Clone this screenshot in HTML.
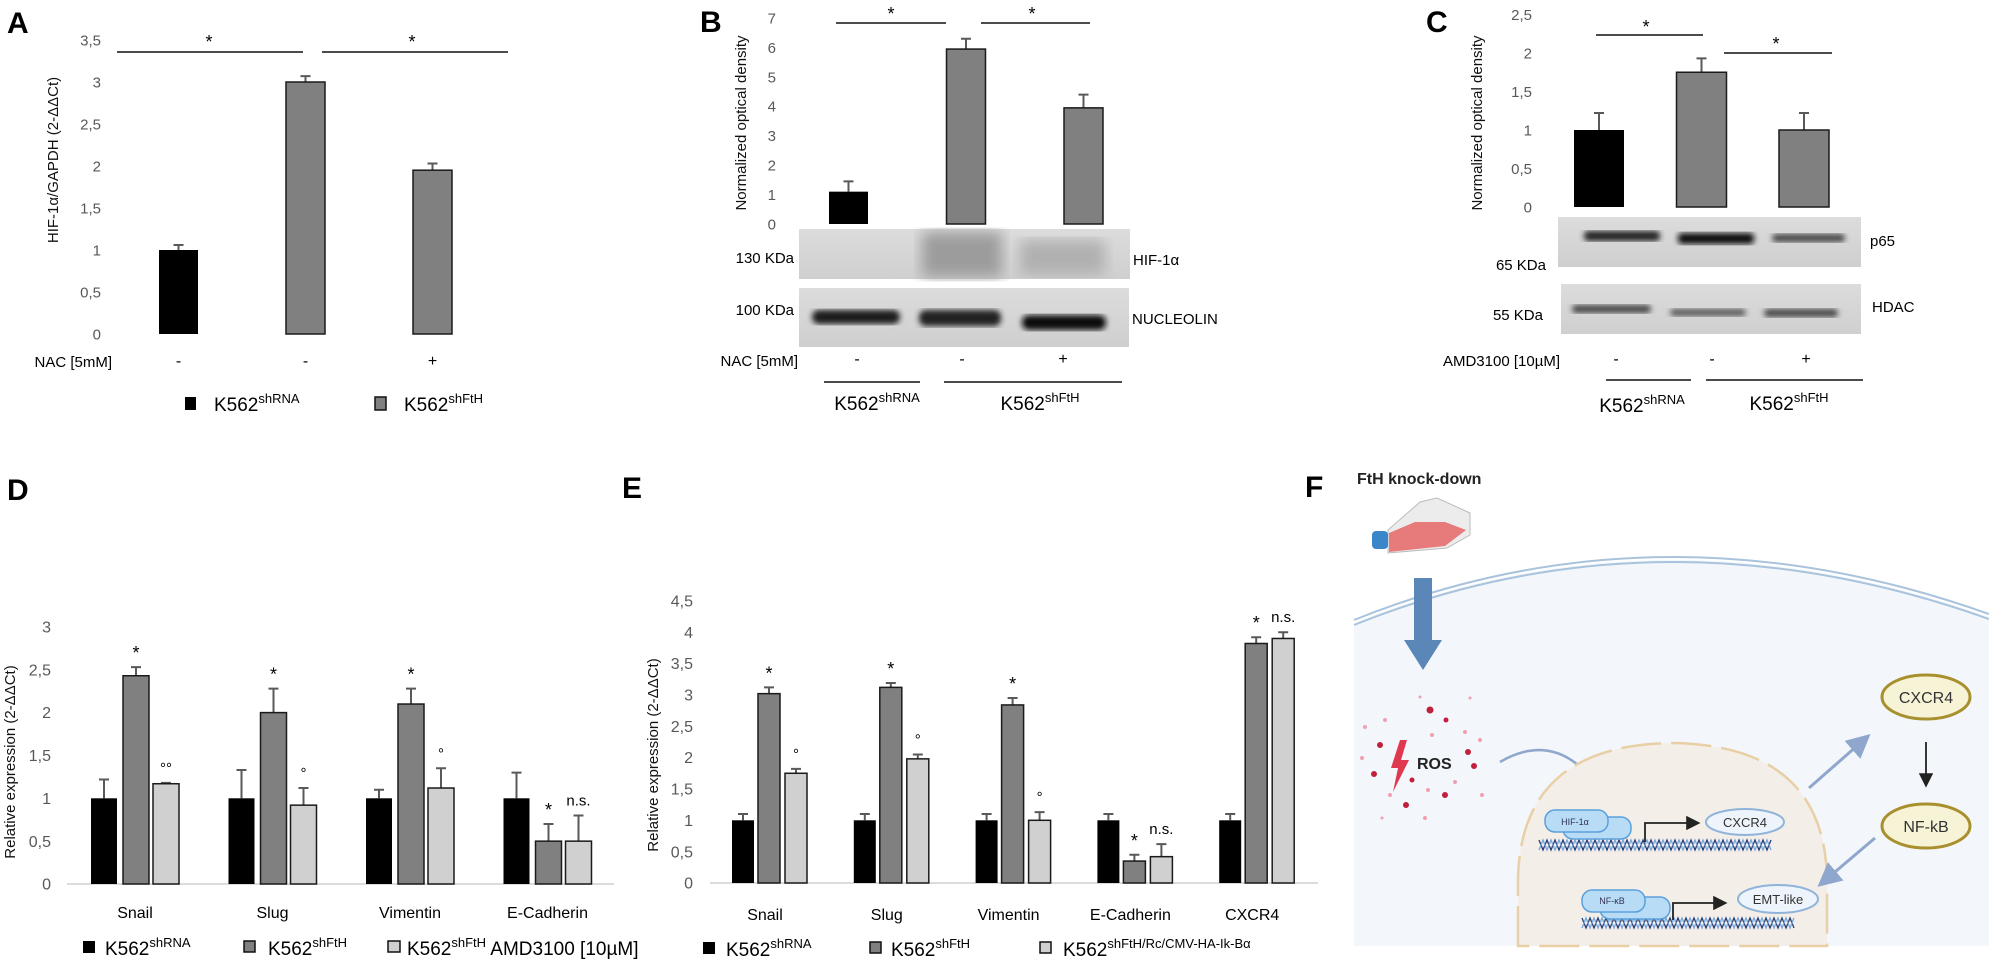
<!DOCTYPE html>
<html><head><meta charset="utf-8">
<style>
html,body{margin:0;padding:0;background:#fff;}
svg{display:block;}
.tk{font-family:"Liberation Sans Narrow","Liberation Sans",sans-serif;fill:#595959;}
.tx{font-family:"Liberation Sans",sans-serif;}
.nr{font-family:"Liberation Sans Narrow","Liberation Sans",sans-serif;}
.pl{font-family:"Liberation Sans",sans-serif;font-weight:bold;font-size:30px;}
</style></head>
<body>
<svg id="fig" width="1989" height="964" viewBox="0 0 1989 964" xmlns="http://www.w3.org/2000/svg">
<defs>
  <filter id="blur3"><feGaussianBlur stdDeviation="3"/></filter>
  <filter id="blur6"><feGaussianBlur stdDeviation="7"/></filter>
  <linearGradient id="blotg" x1="0" y1="0" x2="0" y2="1"><stop offset="0" stop-color="#dcdcdc"/><stop offset="1" stop-color="#cfcfcf"/></linearGradient>
  <marker id="ahb" markerWidth="8" markerHeight="8" refX="6" refY="4" orient="auto"><path d="M0,0 L8,4 L0,8 z" fill="#8fa7cc"/></marker>
  <marker id="ahk" markerWidth="8" markerHeight="8" refX="6" refY="4" orient="auto"><path d="M0,0 L8,4 L0,8 z" fill="#222"/></marker>
</defs>

<!-- panel letters -->
<text class="pl" x="7" y="33">A</text>
<text class="pl" x="700" y="32">B</text>
<text class="pl" x="1426" y="32">C</text>
<text class="pl" x="7" y="500">D</text>
<text class="pl" x="622" y="498">E</text>
<text class="pl" x="1305" y="497">F</text>

<!-- Panel A static -->
<g>
  <text class="tx" transform="translate(58,160) rotate(-90)" text-anchor="middle" font-size="15" fill="#111">HIF-1α/GAPDH  (2-ΔΔCt)</text>
  <line x1="117" y1="52" x2="303" y2="52" stroke="#111" stroke-width="1.5"/>
  <line x1="322" y1="52" x2="508" y2="52" stroke="#111" stroke-width="1.5"/>
  <text class="tx" x="209" y="48" text-anchor="middle" font-size="18">*</text>
  <text class="tx" x="412" y="48" text-anchor="middle" font-size="18">*</text>
  <text class="nr" x="112" y="367" text-anchor="end" font-size="15">NAC [5mM]</text>
  <rect x="185" y="397" width="11" height="13" fill="#000"/>
  <text class="tx" x="214" y="411" font-size="19">K562<tspan font-size="13" dy="-8">shRNA</tspan></text>
  <rect x="375" y="397" width="11" height="13" fill="#808080" stroke="#111" stroke-width="1.5"/>
  <text class="tx" x="404" y="411" font-size="19">K562<tspan font-size="13" dy="-8">shFtH</tspan></text>
</g>
<g id="gA"></g>

<!-- Panel B static -->
<g>
  <text class="tx" transform="translate(746,123) rotate(-90)" text-anchor="middle" font-size="15" fill="#111">Normalized optical density</text>
  <line x1="836" y1="23" x2="946" y2="23" stroke="#111" stroke-width="1.5"/>
  <line x1="981" y1="23" x2="1090" y2="23" stroke="#111" stroke-width="1.5"/>
  <text class="tx" x="891" y="20" text-anchor="middle" font-size="18">*</text>
  <text class="tx" x="1032" y="20" text-anchor="middle" font-size="18">*</text>
  <g>
    <rect x="799" y="229" width="331" height="50" fill="url(#blotg)"/>
    <rect x="922" y="232" width="80" height="45" fill="#9c9c9c" filter="url(#blur6)"/>
    <rect x="1020" y="240" width="85" height="35" fill="#b0b0b0" filter="url(#blur6)"/>
  </g>
  <g>
    <rect x="799" y="288" width="330" height="59" fill="url(#blotg)"/>
    <rect x="812" y="310" width="88" height="14" rx="7" fill="#1a1a1a" filter="url(#blur3)"/>
    <rect x="919" y="310" width="82" height="16" rx="7" fill="#222" filter="url(#blur3)"/>
    <rect x="1022" y="315" width="84" height="15" rx="7" fill="#111" filter="url(#blur3)"/>
  </g>
  <text class="nr" x="794" y="263" text-anchor="end" font-size="15">130 KDa</text>
  <text class="nr" x="794" y="315" text-anchor="end" font-size="15">100 KDa</text>
  <text class="nr" x="1133" y="265" font-size="15">HIF-1α</text>
  <text class="nr" x="1132" y="324" font-size="15">NUCLEOLIN</text>
  <text class="nr" x="798" y="366" text-anchor="end" font-size="15">NAC [5mM]</text>
  <text class="tx" x="857" y="364" text-anchor="middle" font-size="16">-</text>
  <text class="tx" x="962" y="364" text-anchor="middle" font-size="16">-</text>
  <text class="tx" x="1063" y="364" text-anchor="middle" font-size="16">+</text>
  <line x1="824" y1="382" x2="920" y2="382" stroke="#111" stroke-width="1.5"/>
  <line x1="944" y1="382" x2="1122" y2="382" stroke="#111" stroke-width="1.5"/>
  <text class="tx" x="877" y="410" text-anchor="middle" font-size="19">K562<tspan font-size="13" dy="-8">shRNA</tspan></text>
  <text class="tx" x="1040" y="410" text-anchor="middle" font-size="19">K562<tspan font-size="13" dy="-8">shFtH</tspan></text>
</g>
<g id="gB"></g>

<!-- Panel C static -->
<g>
  <text class="tx" transform="translate(1482,123) rotate(-90)" text-anchor="middle" font-size="15" fill="#111">Normalized optical density</text>
  <line x1="1596" y1="35" x2="1703" y2="35" stroke="#111" stroke-width="1.5"/>
  <line x1="1724" y1="53" x2="1832" y2="53" stroke="#111" stroke-width="1.5"/>
  <text class="tx" x="1646" y="33" text-anchor="middle" font-size="18">*</text>
  <text class="tx" x="1776" y="50" text-anchor="middle" font-size="18">*</text>
  <g>
    <rect x="1558" y="217" width="303" height="50" fill="url(#blotg)"/>
    <rect x="1584" y="231" width="76" height="10" rx="4" fill="#222" filter="url(#blur3)"/>
    <rect x="1678" y="233" width="76" height="11" rx="4" fill="#0d0d0d" filter="url(#blur3)"/>
    <rect x="1772" y="234" width="73" height="8" rx="4" fill="#444" filter="url(#blur3)"/>
  </g>
  <g>
    <rect x="1561" y="284" width="300" height="50" fill="url(#blotg)"/>
    <rect x="1572" y="305" width="79" height="8" rx="4" fill="#444" filter="url(#blur3)"/>
    <rect x="1670" y="309" width="76" height="7" rx="4" fill="#555" filter="url(#blur3)"/>
    <rect x="1764" y="309" width="74" height="8" rx="4" fill="#444" filter="url(#blur3)"/>
  </g>
  <text class="nr" x="1870" y="246" font-size="15">p65</text>
  <text class="nr" x="1546" y="270" text-anchor="end" font-size="15">65 KDa</text>
  <text class="nr" x="1872" y="312" font-size="15">HDAC</text>
  <text class="nr" x="1543" y="320" text-anchor="end" font-size="15">55 KDa</text>
  <text class="nr" x="1560" y="366" text-anchor="end" font-size="15">AMD3100  [10µM]</text>
  <text class="tx" x="1616" y="364" text-anchor="middle" font-size="16">-</text>
  <text class="tx" x="1712" y="364" text-anchor="middle" font-size="16">-</text>
  <text class="tx" x="1806" y="364" text-anchor="middle" font-size="16">+</text>
  <line x1="1606" y1="380" x2="1691" y2="380" stroke="#111" stroke-width="1.5"/>
  <line x1="1706" y1="380" x2="1863" y2="380" stroke="#111" stroke-width="1.5"/>
  <text class="tx" x="1642" y="412" text-anchor="middle" font-size="19">K562<tspan font-size="13" dy="-8">shRNA</tspan></text>
  <text class="tx" x="1789" y="410" text-anchor="middle" font-size="19">K562<tspan font-size="13" dy="-8">shFtH</tspan></text>
</g>
<g id="gC"></g>

<!-- Panel D static -->
<g>
  <text class="tx" transform="translate(15,762) rotate(-90)" text-anchor="middle" font-size="15" fill="#111">Relative expression  (2-ΔΔCt)</text>
  <line x1="67" y1="884" x2="614" y2="884" stroke="#d0d0d0" stroke-width="1.5"/>
  <rect x="83" y="941" width="12" height="12" fill="#000"/>
  <text class="tx" x="105" y="955" font-size="19">K562<tspan font-size="13" dy="-8">shRNA</tspan></text>
  <rect x="244" y="941" width="11" height="11" fill="#808080" stroke="#111" stroke-width="1.5"/>
  <text class="tx" x="268" y="955" font-size="19">K562<tspan font-size="13" dy="-8">shFtH</tspan></text>
  <rect x="388" y="941" width="12" height="11" fill="#d0d0d0" stroke="#111" stroke-width="1.5"/>
  <text class="tx" x="407" y="955" font-size="19">K562<tspan font-size="13" dy="-8">shFtH</tspan><tspan dy="8"> AMD3100  [10µM]</tspan></text>
</g>
<g id="gD"></g>

<!-- Panel E static -->
<g>
  <text class="tx" transform="translate(658,755) rotate(-90)" text-anchor="middle" font-size="15" fill="#111">Relative expression  (2-ΔΔCt)</text>
  <line x1="710" y1="883" x2="1318" y2="883" stroke="#d0d0d0" stroke-width="1.5"/>
  <rect x="703" y="942" width="12" height="12" fill="#000"/>
  <text class="tx" x="726" y="956" font-size="19">K562<tspan font-size="13" dy="-8">shRNA</tspan></text>
  <rect x="870" y="942" width="11" height="11" fill="#808080" stroke="#111" stroke-width="1.5"/>
  <text class="tx" x="891" y="956" font-size="19">K562<tspan font-size="13" dy="-8">shFtH</tspan></text>
  <rect x="1040" y="942" width="11" height="11" fill="#d0d0d0" stroke="#111" stroke-width="1.5"/>
  <text class="tx" x="1063" y="956" font-size="19">K562<tspan class="nr" font-size="13" dy="-8">shFtH/Rc/CMV-HA-Ik-Bα</tspan></text>
</g>
<g id="gE"></g>

<!-- Panel F schematic -->
<g>
  <text class="tx" x="1357" y="484" font-size="16" font-weight="bold" fill="#222">FtH knock-down</text>
  <path d="M1354,623 Q1660,500 1989,617 L1989,946 L1354,946 Z" fill="#f3f7fb"/>
  <path d="M1354,620 Q1660,497 1989,614" fill="none" stroke="#a9c3dc" stroke-width="2"/>
  <path d="M1354,625 Q1660,502 1989,619" fill="none" stroke="#a9c3dc" stroke-width="2"/>
  <g>
    <polygon points="1388,530 1420,502 1437,498 1470,513 1470,535 1447,548 1388,553" fill="#ececec" stroke="#bbb" stroke-width="1"/>
    <polygon points="1389,533 1415,522 1445,522 1466,530 1445,546 1389,552" fill="#e77a7a"/>
    <rect x="1372" y="531" width="16" height="18" rx="4" fill="#3a86c8"/>
  </g>
  <g>
    <rect x="1414" y="578" width="18" height="64" fill="#5b86b8"/>
    <polygon points="1404,640 1442,640 1423,670" fill="#5b86b8"/>
  </g>
  <g id="ros"></g>
  <polygon points="1400,740 1407,740 1401,760 1409,760 1393,792 1398,768 1391,768" fill="#e0394f"/>
  <text class="tx" x="1417" y="769" font-size="16" font-weight="bold" fill="#222">ROS</text>
  <path d="M1500,762 Q1555,730 1596,784" fill="none" stroke="#8fa7cc" stroke-width="2.5" marker-end="url(#ahb)"/>
  <g>
    <path d="M1518,946 L1518,880 Q1520,745 1672,743 Q1825,745 1827,880 L1827,946 Z" fill="#f4eee8" stroke="#e8cfa6" stroke-width="2.5" stroke-dasharray="40,10"/>
  </g>
  <g id="dna1"></g>
  <g id="dna2"></g>
  <g>
    <rect x="1563" y="817" width="68" height="22" rx="10" fill="#b8dcf5" stroke="#5aa0dc" stroke-width="1.5"/>
    <rect x="1545" y="810" width="63" height="22" rx="10" fill="#b8dcf5" stroke="#5aa0dc" stroke-width="1.5"/>
    <text class="nr" x="1575" y="825" text-anchor="middle" font-size="9" fill="#335">HIF-1α</text>
  </g>
  <path d="M1645,842 L1645,823 L1697,823" fill="none" stroke="#222" stroke-width="1.8" marker-end="url(#ahk)"/>
  <ellipse cx="1745" cy="822" rx="39" ry="13" fill="#eef4fb" stroke="#8fb3d9" stroke-width="2"/>
  <text class="nr" x="1745" y="827" text-anchor="middle" font-size="13" fill="#333">CXCR4</text>
  <g>
    <rect x="1600" y="897" width="70" height="22" rx="10" fill="#b8dcf5" stroke="#5aa0dc" stroke-width="1.5"/>
    <rect x="1582" y="890" width="63" height="22" rx="10" fill="#b8dcf5" stroke="#5aa0dc" stroke-width="1.5"/>
    <text class="nr" x="1612" y="904" text-anchor="middle" font-size="9" fill="#335">NF-κB</text>
  </g>
  <path d="M1673,920 L1673,903 L1724,903" fill="none" stroke="#222" stroke-width="1.8" marker-end="url(#ahk)"/>
  <ellipse cx="1778" cy="899" rx="40" ry="14" fill="#eef4fb" stroke="#8fb3d9" stroke-width="2"/>
  <text class="nr" x="1778" y="904" text-anchor="middle" font-size="13" fill="#333">EMT-like</text>
  <ellipse cx="1926" cy="697" rx="44" ry="22" fill="#f7f3d6" stroke="#a8902f" stroke-width="3"/>
  <text class="nr" x="1926" y="703" text-anchor="middle" font-size="16" fill="#333">CXCR4</text>
  <ellipse cx="1926" cy="826" rx="44" ry="22" fill="#f7f3d6" stroke="#a8902f" stroke-width="3"/>
  <text class="nr" x="1926" y="832" text-anchor="middle" font-size="16" fill="#333">NF-kB</text>
  <line x1="1926" y1="742" x2="1926" y2="784" stroke="#222" stroke-width="1.8" marker-end="url(#ahk)"/>
  <line x1="1809" y1="788" x2="1866" y2="738" stroke="#8fa7cc" stroke-width="3" marker-end="url(#ahb)"/>
  <line x1="1875" y1="838" x2="1822" y2="883" stroke="#8fa7cc" stroke-width="3" marker-end="url(#ahb)"/>
</g>

<script>
// ---------- chart data ----------
const aCategories = ['-', '-', '+'];
const aValues = [1.0, 3.0, 1.95];
const aErrors = [0.06, 0.07, 0.08];
const aTicks = ['0', '0,5', '1', '1,5', '2', '2,5', '3', '3,5'];
const aTickValues = [0, 0.5, 1, 1.5, 2, 2.5, 3, 3.5];

const bValues = [1.1, 5.95, 3.95];
const bErrors = [0.35, 0.35, 0.45];
const bTicks = ['0', '1', '2', '3', '4', '5', '6', '7'];
const bTickValues = [0, 1, 2, 3, 4, 5, 6, 7];

const cValues = [1.0, 1.75, 1.0];
const cErrors = [0.22, 0.18, 0.22];
const cTicks = ['0', '0,5', '1', '1,5', '2', '2,5'];
const cTickValues = [0, 0.5, 1, 1.5, 2, 2.5];

const dCategories = ['Snail', 'Slug', 'Vimentin', 'E-Cadherin'];
const dShRNA = [1.0, 1.0, 1.0, 1.0];
const dShRNAErr = [0.22, 0.33, 0.1, 0.3];
const dShFtH = [2.43, 2.0, 2.1, 0.5];
const dShFtHErr = [0.1, 0.28, 0.18, 0.2];
const dAMD = [1.17, 0.92, 1.12, 0.5];
const dAMDErr = [0.01, 0.2, 0.23, 0.3];
const dMarkFtH = ['*', '*', '*', '*'];
const dMarkAMD = ['°°', '°', '°', 'n.s.'];
const dTicks = ['0', '0,5', '1', '1,5', '2', '2,5', '3'];
const dTickValues = [0, 0.5, 1, 1.5, 2, 2.5, 3];

const eCategories = ['Snail', 'Slug', 'Vimentin', 'E-Cadherin', 'CXCR4'];
const eShRNA = [1.0, 1.0, 1.0, 1.0, 1.0];
const eShRNAErr = [0.1, 0.1, 0.1, 0.1, 0.1];
const eShFtH = [3.02, 3.12, 2.84, 0.35, 3.82];
const eShFtHErr = [0.1, 0.07, 0.11, 0.1, 0.1];
const eIkB = [1.75, 1.98, 1.0, 0.42, 3.9];
const eIkBErr = [0.07, 0.07, 0.13, 0.2, 0.1];
const eMarkFtH = ['*', '*', '*', '*', '*'];
const eMarkIkB = ['°', '°', '°', 'n.s.', 'n.s.'];
const eTicks = ['0', '0,5', '1', '1,5', '2', '2,5', '3', '3,5', '4', '4,5'];
const eTickValues = [0, 0.5, 1, 1.5, 2, 2.5, 3, 3.5, 4, 4.5];

// ---------- helpers ----------
const NS = 'http://www.w3.org/2000/svg';
function mk(parent, tag, attrs) {
  const el = document.createElementNS(NS, tag);
  for (const k in attrs) el.setAttribute(k, attrs[k]);
  parent.appendChild(el);
  return el;
}
const FILLS = ['#000000', '#808080', '#d0d0d0'];
function drawBar(g, x, w, v, err, yFn, series, name) {
  const y0 = yFn(0), yt = yFn(v), ye = yFn(v + err);
  const cx = x + w / 2;
  const eb = mk(g, 'path', {d: 'M' + cx + ',' + yt + ' L' + cx + ',' + ye + ' M' + (cx - 5) + ',' + ye + ' L' + (cx + 5) + ',' + ye, stroke: '#595959', 'stroke-width': 2, fill: 'none'});
  
  
  const r = mk(g, 'rect', {x: x, y: yt, width: w, height: y0 - yt, fill: FILLS[series], stroke: series === 0 ? 'none' : '#1a1a1a', 'stroke-width': 1.5});
  
  
}
function drawTicks(g, labels, values, yFn, xEnd, fs, prefix) {
  labels.forEach((lab, i) => {
    const t = mk(g, 'text', {x: xEnd, y: yFn(values[i]) + fs * 0.35, 'text-anchor': 'end', 'font-size': fs, class: 'tk'});
    t.textContent = lab;
    
    
  });
}
function txt(g, x, y, s, fs, name) {
  const t = mk(g, 'text', {x: x, y: y, 'text-anchor': 'middle', 'font-size': fs, class: 'tx'});
  t.textContent = s;
  
  
  return t;
}

// ---------- Panel A ----------
(function () {
  const g = document.getElementById('gA');
  const yA = v => 334 - v * 84;
  drawTicks(g, aTicks, aTickValues, yA, 101, 15, 'a');
  aValues.forEach((v, i) => {
    const x = 159 + i * 127;
    drawBar(g, x, 39, v, aErrors[i], yA, i === 0 ? 0 : 1, 'a-bar-' + (i + 1));
    txt(g, x + 19.5, 366, aCategories[i], 16, 'a-nac-sign-' + (i + 1));
  });
})();

// ---------- Panel B ----------
(function () {
  const g = document.getElementById('gB');
  const yB = v => 224 - v * 29.4;
  drawTicks(g, bTicks, bTickValues, yB, 776, 15, 'b');
  bValues.forEach((v, i) => {
    drawBar(g, 829 + i * 117.5, 39, v, bErrors[i], yB, i === 0 ? 0 : 1, 'b-bar-' + (i + 1));
  });
})();

// ---------- Panel C ----------
(function () {
  const g = document.getElementById('gC');
  const yC = v => 207 - v * 77;
  drawTicks(g, cTicks, cTickValues, yC, 1532, 15, 'c');
  cValues.forEach((v, i) => {
    drawBar(g, 1574 + i * 102.5, 50, v, cErrors[i], yC, i === 0 ? 0 : 1, 'c-bar-' + (i + 1));
  });
})();

// ---------- Panel D ----------
(function () {
  const g = document.getElementById('gD');
  const yD = v => 884 - v * 85.7;
  drawTicks(g, dTicks, dTickValues, yD, 51, 16, 'd');
  const series = [[dShRNA, dShRNAErr], [dShFtH, dShFtHErr], [dAMD, dAMDErr]];
  const offs = [0, 32, 62];
  dCategories.forEach((c, gi) => {
    const gx = 91 + gi * 137.5;
    series.forEach((s, si) => {
      drawBar(g, gx + offs[si], 26, s[0][gi], s[1][gi], yD, si, 'd-bar-' + c.toLowerCase() + '-' + si);
    });
    txt(g, gx + 32 + 13, yD(dShFtH[gi] + dShFtHErr[gi]) - 8, dMarkFtH[gi], 18, 'd-mark-ftH-' + gi);
    txt(g, gx + 62 + 13, yD(dAMD[gi] + dAMDErr[gi]) - 10, dMarkAMD[gi], 15, 'd-mark-amd-' + gi);
    txt(g, gx + 44, 918, c, 16, 'd-x-label-' + gi);
  });
})();

// ---------- Panel E ----------
(function () {
  const g = document.getElementById('gE');
  const yE = v => 883 - v * 62.7;
  drawTicks(g, eTicks, eTickValues, yE, 693, 16, 'e');
  const series = [[eShRNA, eShRNAErr], [eShFtH, eShFtHErr], [eIkB, eIkBErr]];
  const offs = [0, 26, 53];
  eCategories.forEach((c, gi) => {
    const gx = 732 + gi * 121.8;
    series.forEach((s, si) => {
      drawBar(g, gx + offs[si], 22, s[0][gi], s[1][gi], yE, si, 'e-bar-' + c.toLowerCase() + '-' + si);
    });
    txt(g, gx + 26 + 11, yE(eShFtH[gi] + eShFtHErr[gi]) - 8, eMarkFtH[gi], 18, 'e-mark-fth-' + gi);
    txt(g, gx + 53 + 11, yE(eIkB[gi] + eIkBErr[gi]) - 10, eMarkIkB[gi], 15, 'e-mark-ikb-' + gi);
    txt(g, gx + 33, 920, c, 16, 'e-x-label-' + gi);
  });
})();

// ---------- Panel F decorations ----------
(function () {
  const ros = document.getElementById('ros');
  const dots = [[1365,727,2,'#f0a0b0'],[1380,745,3,'#c0203c'],[1385,720,2,'#f0a0b0'],[1430,710,3.5,'#c0203c'],[1446,720,2.5,'#c0203c'],[1432,735,2,'#f0a0b0'],[1420,697,1.5,'#f0a0b0'],[1470,698,1.5,'#f0a0b0'],[1465,732,2,'#f0a0b0'],[1480,740,2,'#f0a0b0'],[1468,752,3,'#c0203c'],[1474,766,3,'#c0203c'],[1374,774,3,'#c0203c'],[1362,758,2,'#f0a0b0'],[1412,780,2.5,'#c0203c'],[1428,790,2,'#f0a0b0'],[1455,782,2,'#f0a0b0'],[1445,795,3,'#c0203c'],[1482,795,2,'#f0a0b0'],[1406,805,3,'#c0203c'],[1425,818,2,'#f0a0b0'],[1382,818,1.5,'#f0a0b0'],[1390,795,2,'#f0a0b0']];
  dots.forEach(d => mk(ros, 'circle', {cx: d[0], cy: d[1], r: d[2], fill: d[3]}));
  function dna(id, x1, x2, y) {
    const g = document.getElementById(id);
    let p1 = '', p2 = '';
    for (let x = x1, k = 0; x <= x2; x += 4, k++) {
      const a = (k % 2 === 0) ? -5 : 5;
      p1 += (k ? ' L' : 'M') + x + ',' + (y + a);
      p2 += (k ? ' L' : 'M') + x + ',' + (y - a);
    }
    mk(g, 'path', {d: p1, stroke: '#2b3a7a', 'stroke-width': 1.3, fill: 'none'});
    mk(g, 'path', {d: p2, stroke: '#6fa8dc', 'stroke-width': 1.3, fill: 'none'});
  }
  dna('dna1', 1539, 1772, 845);
  dna('dna2', 1582, 1794, 923);
})();
</script>
</svg>
</body></html>
